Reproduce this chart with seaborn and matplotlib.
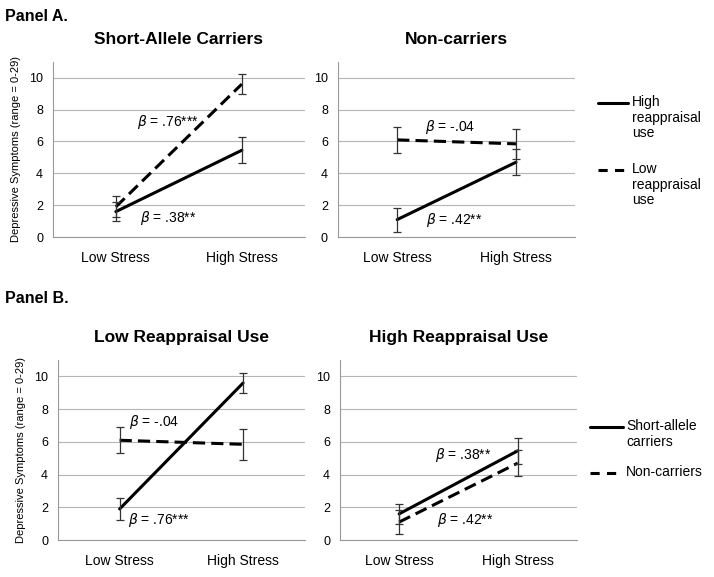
import numpy as np
import pandas as pd
import matplotlib
matplotlib.use("Agg")
import matplotlib.pyplot as plt
from matplotlib.lines import Line2D
import seaborn as sns

# data (means and error-bar half widths)
stress = ["Low Stress", "High Stress"]
sa_high_reapp = [1.6, 5.45]
sa_high_reapp_err = [0.6, 0.8]
sa_low_reapp = [1.9, 9.6]
sa_low_reapp_err = [0.65, 0.6]
nc_high_reapp = [1.1, 4.7]
nc_high_reapp_err = [0.75, 0.8]
nc_low_reapp = [6.1, 5.85]
nc_low_reapp_err = [0.8, 0.95]

sns.set_style("white")
plt.rcParams["font.family"] = ["Liberation Sans", "DejaVu Sans"]
plt.rcParams["text.color"] = "black"
plt.rcParams["axes.labelcolor"] = "black"
plt.rcParams["xtick.color"] = "black"
plt.rcParams["ytick.color"] = "black"

DASH = (4, 2)


def make_df(solid, solid_err, dashed, dashed_err):
    rows = []
    for i, s in enumerate(stress):
        rows.append({"x": i, "stress": s, "y": solid[i], "err": solid_err[i], "grp": "solid"})
        rows.append({"x": i, "stress": s, "y": dashed[i], "err": dashed_err[i], "grp": "dashed"})
    return pd.DataFrame(rows)


def draw_panel(ax, df, title, ylabel=False):
    sns.lineplot(data=df, x="x", y="y", style="grp", style_order=["solid", "dashed"],
                 dashes={"solid": "", "dashed": DASH}, color="black", lw=2.2,
                 legend=False, ax=ax, zorder=3)
    for _, r in df.iterrows():
        ax.errorbar(r["x"], r["y"], yerr=r["err"], fmt="none", ecolor="#333333",
                    elinewidth=0.9, capsize=3, capthick=0.9, zorder=4)
    ax.set_xlim(-0.5, 1.5)
    ax.set_ylim(0, 11)
    ax.set_yticks([0, 2, 4, 6, 8, 10])
    ax.set_xticks([0, 1])
    ax.set_xticklabels(stress, fontsize=10)
    ax.set_xticks([-0.5, 0.5, 1.5], minor=True)
    ax.tick_params(axis="x", which="major", length=0, pad=10)
    ax.tick_params(axis="x", which="minor", length=4, color="#999999", width=0.8)
    ax.tick_params(axis="y", length=4, color="#999999", width=0.8, labelsize=9, pad=3)
    ax.yaxis.grid(True, color="#b5b5b5", lw=0.8)
    ax.set_axisbelow(True)
    for s in ["top", "right"]:
        ax.spines[s].set_visible(False)
    ax.spines["bottom"].set_color("#999999")
    ax.spines["left"].set_color("#999999")
    ax.spines["bottom"].set_linewidth(0.8)
    ax.spines["left"].set_linewidth(0.8)
    ax.set_xlabel("")
    if ylabel:
        ax.set_ylabel("Depressive Symptoms (range = 0-29)", fontsize=8, labelpad=6)
    else:
        ax.set_ylabel("")
    ax.set_title(title, fontsize=12.5, fontweight="bold", pad=13, color="black")


def beta(ax, x, y, txt):
    ax.text(x, y, r"$\beta$" + " = " + txt, fontsize=10, ha="left", va="center",
            zorder=5)


fig = plt.figure(figsize=(7.14, 5.77), dpi=100)

ax1 = fig.add_axes([0.074, 0.589, 0.353, 0.304])
ax2 = fig.add_axes([0.473, 0.589, 0.333, 0.304])
ax3 = fig.add_axes([0.081, 0.064, 0.346, 0.312])
ax4 = fig.add_axes([0.476, 0.064, 0.332, 0.312])

# Panel A: solid = high reappraisal use, dashed = low reappraisal use
draw_panel(ax1, make_df(sa_high_reapp, sa_high_reapp_err, sa_low_reapp, sa_low_reapp_err),
           "Short-Allele Carriers", ylabel=True)
draw_panel(ax2, make_df(nc_high_reapp, nc_high_reapp_err, nc_low_reapp, nc_low_reapp_err),
           "Non-carriers")
# Panel B: solid = short-allele carriers, dashed = non-carriers
draw_panel(ax3, make_df(sa_low_reapp, sa_low_reapp_err, nc_low_reapp, nc_low_reapp_err),
           "Low Reappraisal Use", ylabel=True)
draw_panel(ax4, make_df(sa_high_reapp, sa_high_reapp_err, nc_high_reapp, nc_high_reapp_err),
           "High Reappraisal Use")

beta(ax1, 0.17, 7.2, ".76***")
beta(ax1, 0.19, 1.2, ".38**")
beta(ax2, 0.23, 6.9, "-.04")
beta(ax2, 0.24, 1.1, ".42**")
beta(ax3, 0.08, 7.2, "-.04")
beta(ax3, 0.07, 1.2, ".76***")
beta(ax4, 0.30, 5.2, ".38**")
beta(ax4, 0.32, 1.2, ".42**")

fig.text(0.007, 0.972, "Panel A.", fontsize=11.5, fontweight="bold", va="center")
fig.text(0.007, 0.483, "Panel B.", fontsize=11.5, fontweight="bold", va="center")


def legend_item(x0, x1, y, label, dashed):
    ln = Line2D([x0, x1], [y, y], transform=fig.transFigure, color="black", lw=2.2)
    if dashed:
        ln.set_dashes((3, 2.4))
    fig.add_artist(ln)
    fig.text(x1 + 0.005, y + 0.013, label, fontsize=10, va="top", ha="left",
             linespacing=1.1)


legend_item(0.838, 0.880, 1 - 103 / 577, "High\nreappraisal\nuse", False)
legend_item(0.838, 0.880, 1 - 170 / 577, "Low\nreappraisal\nuse", True)
legend_item(0.826, 0.872, 1 - 427 / 577, "Short-allele\ncarriers", False)
legend_item(0.826, 0.872, 1 - 473 / 577, "Non-carriers", True)

fig.savefig("out.png", dpi=100, facecolor="white")
